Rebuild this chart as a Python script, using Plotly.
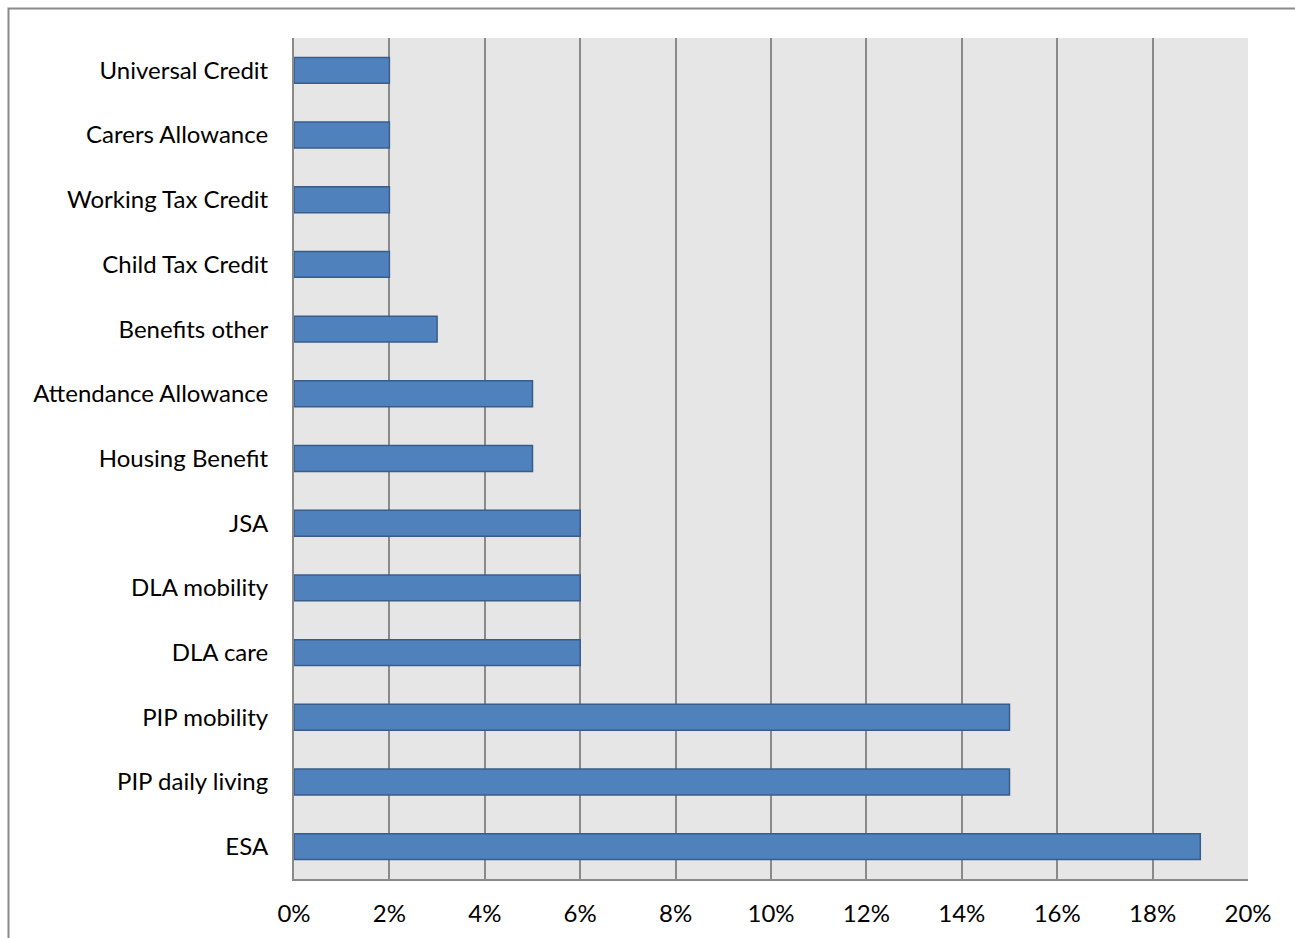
import plotly.graph_objects as go

# Share of cases by benefit type (percent)
benefits = [
    "Universal Credit", "Carers Allowance", "Working Tax Credit", "Child Tax Credit",
    "Benefits other", "Attendance Allowance", "Housing Benefit", "JSA",
    "DLA mobility", "DLA care", "PIP mobility", "PIP daily living", "ESA",
]
share_pct = [2, 2, 2, 2, 3, 5, 5, 6, 6, 6, 15, 15, 19]
x_ticks = [0, 2, 4, 6, 8, 10, 12, 14, 16, 18, 20]
x_tick_labels = [f"{t}%" for t in x_ticks]

W, H = 1295, 938
L, R, T, B = 294, 1248, 38, 879

fig = go.Figure(
    go.Bar(
        x=share_pct,
        y=benefits,
        orientation="h",
        width=0.4,
        marker=dict(color="#4f81bd", line=dict(color="#385d8a", width=1.5)),
        hoverinfo="x+y",
    )
)

font = dict(family="Lato, Open Sans, sans-serif", size=24, color="#000000")

fig.update_layout(
    width=W,
    height=H,
    margin=dict(l=L, r=W - R, t=T, b=H - B, autoexpand=False),
    paper_bgcolor="white",
    plot_bgcolor="#e6e6e6",
    showlegend=False,
    font=font,
    bargap=0.6,
)

fig.update_xaxes(
    range=[0, 20],
    tickvals=x_ticks,
    ticktext=x_tick_labels,
    showgrid=True,
    gridcolor="#8a8a8a",
    gridwidth=2,
    zeroline=False,
    showline=True,
    linecolor="#8a8a8a",
    linewidth=2,
    ticks="outside",
    ticklen=0,
    ticklabelstandoff=12,
    tickfont=font,
    automargin=False,
)

fig.update_yaxes(
    categoryorder="array",
    categoryarray=benefits,
    autorange="reversed",
    showgrid=False,
    zeroline=False,
    showline=True,
    linecolor="#8a8a8a",
    linewidth=2,
    ticks="outside",
    ticklen=0,
    ticklabelstandoff=19,
    tickfont=font,
    automargin=False,
)

# Outer chart frame
pw, ph = R - L, B - T
fig.add_shape(
    type="rect",
    xref="paper", yref="paper",
    x0=(8.5 - L) / pw, x1=(W + 20 - L) / pw,
    y0=(B - (H + 20)) / ph, y1=(B - 8.5) / ph,
    line=dict(color="#8a8a8a", width=2),
    fillcolor="rgba(0,0,0,0)",
    layer="below",
)

fig.write_html("out.html")
